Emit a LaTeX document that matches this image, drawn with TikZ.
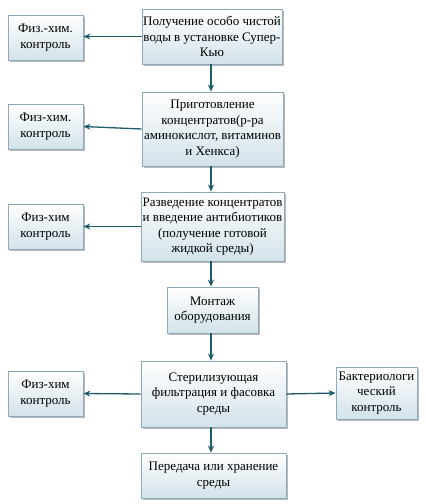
\documentclass[tikz,border=0pt]{standalone}
\usepackage{fontspec}
\setmainfont{Liberation Serif}
\newfontfamily\boxfont{Liberation Serif}
\usetikzlibrary{shadows,arrows.meta}
\definecolor{arrowc}{HTML}{1E5C6B}
\definecolor{boxborder}{HTML}{8FA9B8}
\definecolor{boxbot}{HTML}{D3E2EA}
\tikzset{
  box/.style={draw=boxborder, line width=0.8pt, top color=white, bottom color=boxbot,
    drop shadow={shadow xshift=1.6pt, shadow yshift=-1.6pt, fill=black!45, opacity=0.6},
    align=center, inner sep=1pt, font=\boxfont\fontsize{13}{15.5}\selectfont},
  arr/.style={draw=arrowc, line width=1.3pt, -{Stealth[length=7pt,width=6pt]}}
}
\begin{document}
\begin{tikzpicture}[x=1pt,y=1pt]
\useasboundingbox (0,0) rectangle (426,-504);
\node[box, minimum width=140pt, minimum height=55pt] (b1) at (212,-36.5) {Получение особо чистой\\воды в установке Супер-\\Кью};
\node[box, minimum width=75pt, minimum height=45pt] (l1) at (45.5,-37.5) {Физ.-хим.\\контроль};
\node[box, minimum width=141pt, minimum height=74pt] (b2) at (212.5,-129) {Приготовление\\концентратов(р-ра\\аминокислот, витаминов\\и Хенкса)};
\node[box, minimum width=75pt, minimum height=45pt] (l2) at (45.5,-126.5) {Физ-хим.\\контроль};
\node[box, minimum width=143pt, minimum height=69pt] (b3) at (212.5,-226.5) {Разведение концентратов\\и введение антибиотиков\\(получение готовой\\жидкой среды)};
\node[box, minimum width=75pt, minimum height=45pt] (l3) at (45.5,-226.5) {Физ-хим\\контроль};
\node[box, minimum width=91pt, minimum height=46pt] (b4) at (212.5,-310) {Монтаж\\оборудования};
\node[box, minimum width=145pt, minimum height=66pt] (b5) at (213.5,-394) {Стерилизующая\\фильтрация и фасовка\\среды};
\node[box, minimum width=75pt, minimum height=45pt] (l5) at (45.5,-393.5) {Физ-хим\\контроль};
\node[box, minimum width=81pt, minimum height=52pt] (r5) at (376.5,-393) {Бактериологи\\ческий\\контроль};
\node[box, minimum width=145pt, minimum height=45pt] (b6) at (213.5,-475.5) {Передача или хранение\\среды};
\draw[arr] (b1.south -| 211,0) -- (b2.north -| 211,0);
\draw[arr] (b2.south -| 211,0) -- (b3.north -| 211,0);
\draw[arr] (b3.south -| 211,0) -- (b4.north -| 211,0);
\draw[arr] (b4.south -| 211,0) -- (b5.north -| 211,0);
\draw[arr] (b5.south -| 211,0) -- (b6.north -| 211,0);
\draw[arr] (b1.west) -- (l1.east |- b1.west);
\draw[arr] (b2.west) -- (l2.east);
\draw[arr] (b3.west) -- (l3.east);
\draw[arr] (b5.west) -- (l5.east);
\draw[arr] (b5.east) -- (r5.west);
\end{tikzpicture}
\end{document}
